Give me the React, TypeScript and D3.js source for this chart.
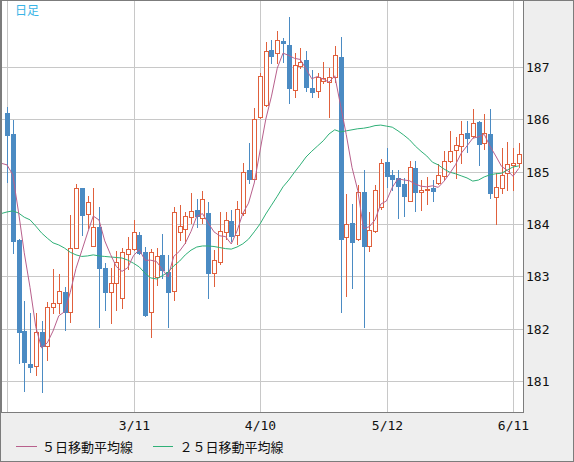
import React from "react";
import * as d3 from "d3";

// ---- data (daily candles) ----
const opens = [
  186.12, 185.72, 183.69, 181.95, 181.32, 181.29, 181.94, 181.67, 182.41, 182.49,
  182.70, 182.32, 183.54, 184.69, 184.19, 183.58, 183.94, 183.16, 182.70, 182.87,
  182.59, 183.43, 183.52, 183.79, 183.46, 182.32, 182.99, 183.41, 183.08, 182.72,
  183.85, 183.90, 184.13, 184.27, 184.11, 184.21, 183.06, 183.27, 183.85, 184.06,
  183.79, 184.21, 185.03, 184.86, 186.04, 186.27, 187.32, 187.27, 187.50, 187.42,
  186.56, 187.02, 187.13, 186.60, 186.54, 186.73, 186.71, 186.81, 187.19, 183.75,
  184.02, 183.71, 184.61, 183.58, 183.87, 184.32, 185.18, 184.94, 184.88, 184.76,
  184.44, 185.07, 184.61, 184.65, 184.69, 184.78, 184.92, 185.20, 185.41, 185.49,
  185.74, 185.68, 185.95, 185.55, 185.72, 184.52, 184.69, 184.97, 185.13, 185.17,
];
const highs = [
  186.23, 185.99, 183.72, 182.53, 182.30, 182.30, 182.15, 182.51, 183.14, 183.04,
  182.80, 184.17, 184.76, 184.69, 184.53, 184.69, 184.32, 183.25, 183.16, 183.48,
  183.54, 183.75, 184.08, 183.85, 183.56, 183.52, 183.54, 183.81, 183.41, 184.33,
  184.36, 184.23, 184.59, 184.48, 184.63, 184.42, 183.50, 184.23, 184.23, 184.27,
  184.44, 185.17, 185.55, 186.22, 186.89, 187.48, 187.52, 187.69, 187.55, 187.96,
  187.27, 187.36, 187.31, 186.94, 186.89, 187.10, 186.98, 187.40, 187.57, 184.57,
  184.38, 184.75, 185.03, 184.23, 184.75, 185.24, 185.45, 185.03, 185.03, 184.88,
  185.20, 185.20, 184.84, 184.90, 184.84, 185.15, 185.39, 185.78, 185.66, 185.97,
  185.97, 186.20, 185.97, 186.10, 186.20, 184.97, 185.45, 185.57, 185.45, 185.55,
];
const lows = [
  184.80, 183.45, 181.34, 180.81, 181.17, 181.11, 180.79, 181.40, 182.30, 182.30,
  181.97, 182.13, 183.54, 183.79, 183.92, 183.58, 182.03, 182.36, 182.11, 182.36,
  182.39, 183.14, 183.50, 183.42, 182.24, 181.84, 182.83, 182.97, 182.03, 182.55,
  183.69, 183.64, 184.02, 183.94, 184.02, 182.59, 182.82, 183.23, 183.71, 183.67,
  183.62, 184.17, 184.78, 184.86, 186.02, 186.25, 187.08, 187.08, 187.10, 186.31,
  186.43, 186.98, 186.54, 186.43, 186.43, 186.69, 186.04, 186.71, 182.32, 182.62,
  182.78, 183.69, 182.03, 183.48, 183.85, 184.28, 184.71, 184.65, 184.11, 184.15,
  184.44, 184.25, 184.27, 184.38, 184.44, 184.76, 184.86, 185.18, 184.88, 185.17,
  185.38, 185.66, 185.13, 185.43, 184.50, 184.00, 184.59, 184.65, 184.65, 185.09,
];
const closes = [
  185.71, 183.68, 181.94, 181.36, 181.26, 181.94, 181.67, 182.41, 182.49, 182.72,
  182.32, 183.54, 184.69, 184.17, 184.42, 183.94, 183.16, 182.70, 182.87, 183.27,
  183.47, 183.52, 183.85, 183.44, 182.26, 183.47, 183.39, 183.12, 182.70, 184.23,
  183.96, 184.15, 184.25, 184.15, 184.48, 183.06, 183.31, 183.87, 184.08, 183.77,
  184.29, 184.99, 184.86, 186.01, 186.83, 187.31, 187.21, 187.52, 187.46, 186.60,
  187.04, 187.10, 186.62, 186.52, 186.81, 186.79, 186.81, 187.23, 183.71, 184.00,
  183.66, 184.61, 183.58, 183.89, 184.65, 185.17, 184.92, 184.86, 184.73, 184.53,
  185.09, 184.61, 184.65, 184.67, 184.63, 184.94, 185.20, 185.39, 185.51, 185.72,
  185.64, 185.93, 185.53, 185.74, 184.59, 184.71, 184.94, 185.15, 185.17, 185.34,
];
// 5-day MA values before a full window exists;
// first value belongs to the (off-chart) day before index 0
const ma5Lead = [185.16, 185.13, 184.94, 184.23, 183.45];
// 25-day MA; first value is the day before index 0
const ma25 = [
  184.20,
  184.23, 184.25, 184.21, 184.13, 184.08, 183.96, 183.83, 183.73, 183.64, 183.60,
  183.54, 183.46, 183.41, 183.38, 183.39, 183.41, 183.39, 183.38, 183.37, 183.36,
  183.35, 183.31, 183.25, 183.18, 183.06, 182.97, 182.95, 183.01, 183.08, 183.20,
  183.29, 183.41, 183.50, 183.56, 183.58, 183.58, 183.57, 183.55, 183.53, 183.52,
  183.56, 183.62, 183.71, 183.85, 184.00, 184.19, 184.36, 184.53, 184.71, 184.84,
  184.99, 185.13, 185.28, 185.39, 185.49, 185.59, 185.72, 185.80, 185.76, 185.78,
  185.80, 185.82, 185.83, 185.85, 185.88, 185.89, 185.87, 185.85, 185.78, 185.70,
  185.61, 185.49, 185.39, 185.30, 185.18, 185.13, 185.05, 184.99, 184.96, 184.92,
  184.88, 184.82, 184.84, 184.90, 184.94, 184.96, 184.97, 185.03, 185.09, 185.11,
];
const gridIndexes = [0, 22, 44, 66, 88];
const dateLabels = ["", "3/11", "4/10", "5/12", "6/11"];
const priceTicks = [181, 182, 183, 184, 185, 186, 187];
const legendLabels = ["５日移動平均線", "２５日移動平均線"];
const title = "日足";

const UP = "#e0603c";
const DOWN = "#4b8bc3";
const MA5C = "#b8608c";
const MA25C = "#2fb077";
const GRID = "#c8c8c8";
const FRAME = "#7c7c7c";
const MONO = "'DejaVu Sans Mono', monospace";
const CJK = "'Noto Sans CJK JP', 'Noto Sans', sans-serif";

export default function App() {
  const W = 574, H = 462;
  const plotL = 1, plotR = 523, plotT = 0, plotB = 412;
  const x = d3.scaleLinear().domain([0, 88]).range([7, 513]);
  const y = d3.scaleLinear().domain([181, 187]).range([381, 67]);

  // ma5 series starting at index -1
  const ma5 = [
    ...ma5Lead,
    ...closes.slice(4).map((_, k) => d3.mean(closes.slice(k, k + 5)) as number),
  ];

  const line = d3
    .line<number>()
    .x((_, i) => x(i - 1))
    .y((v) => y(v));

  return (
    <svg
      width={W}
      height={H}
      style={{ position: "absolute", left: 0, top: 0, display: "block" }}
    >
      <defs>
        <clipPath id="plotClip">
          <rect x={plotL + 1} y={plotT + 1} width={plotR - plotL - 1} height={plotB - plotT - 1} />
        </clipPath>
      </defs>
      <rect x={0.5} y={0.5} width={W - 1} height={H - 1} fill="#eeeeee" stroke={FRAME} />
      <rect
        x={plotL + 0.5}
        y={plotT + 0.5}
        width={plotR - plotL}
        height={plotB - plotT}
        fill="#ffffff"
        stroke={FRAME}
      />
      {/* grid */}
      <g shapeRendering="crispEdges">
        {priceTicks.map((t) => {
          const yy = Math.round(y(t)) + 0.5;
          return (
            <line key={"h" + t} x1={plotL + 1} x2={plotR} y1={yy} y2={yy} stroke={GRID} />
          );
        })}
        {gridIndexes.map((gi) => {
          const xx = Math.round(x(gi)) + 0.5;
          return (
            <line key={"v" + gi} x1={xx} x2={xx} y1={plotT + 1} y2={plotB} stroke={GRID} />
          );
        })}
      </g>
      {/* candles */}
      <g shapeRendering="crispEdges">
        {closes.map((c, i) => {
          const o = opens[i];
          const cx = Math.round(x(i));
          const yH = Math.round(y(highs[i]));
          const yL = Math.round(y(lows[i]));
          const yO = Math.round(y(o));
          const yC = Math.round(y(c));
          const up = c >= o;
          const col = up ? UP : DOWN;
          return (
            <g key={i}>
              <line x1={cx + 0.5} x2={cx + 0.5} y1={yH} y2={yL + 1} stroke={col} />
              {up ? (
                <rect
                  x={cx - 1.5}
                  y={yC + 0.5}
                  width={4}
                  height={Math.max(1, yO - yC)}
                  fill="#ffffff"
                  stroke={col}
                />
              ) : (
                <rect
                  x={cx - 2}
                  y={yO}
                  width={5}
                  height={Math.max(1, yC - yO + 1)}
                  fill={col}
                />
              )}
            </g>
          );
        })}
      </g>
      {/* moving averages */}
      <g clipPath="url(#plotClip)">
        <path d={line(ma25) || ""} fill="none" stroke={MA25C} strokeWidth={1} />
        <path d={line(ma5) || ""} fill="none" stroke={MA5C} strokeWidth={1} />
      </g>

      {/* title */}
      <text x={15} y={14.5} fontFamily={CJK} fontSize={12} fill="#39b4e6">
        {title}
      </text>

      {/* price labels */}
      {priceTicks.map((t) => (
        <text
          key={"p" + t}
          x={526}
          y={Math.round(y(t)) + 5}
          fontFamily={MONO}
          fontSize={13}
          fill="#111"
        >
          {t}
        </text>
      ))}
      {/* date labels */}
      {gridIndexes.map((gi, k) =>
        dateLabels[k] ? (
          <text
            key={"d" + gi}
            x={Math.round(x(gi)) + 0.5}
            y={430}
            textAnchor="middle"
            fontFamily={MONO}
            fontSize={13}
            fill="#111"
          >
            {dateLabels[k]}
          </text>
        ) : null
      )}
      {/* legend */}
      <line x1={16} x2={37} y1={446.5} y2={446.5} stroke={MA5C} />
      <text x={42} y={452} fontFamily={CJK} fontSize={13} fill="#111">
        {legendLabels[0]}
      </text>
      <line x1={153} x2={173} y1={446.5} y2={446.5} stroke={MA25C} />
      <text x={179.5} y={452} fontFamily={CJK} fontSize={13} fill="#111">
        {legendLabels[1]}
      </text>
    </svg>
  );
}
